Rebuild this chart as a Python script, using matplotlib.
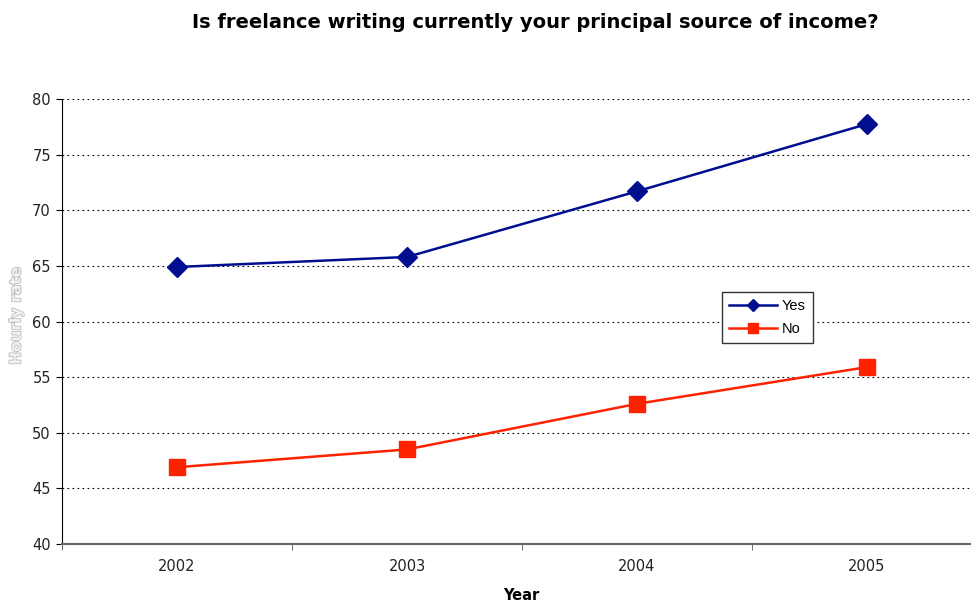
import matplotlib.pyplot as plt
import matplotlib.patheffects as pe
from matplotlib.ticker import MultipleLocator, FixedLocator

years = ['2002', '2003', '2004', '2005']
yes_values = [64.9, 65.8, 71.7, 77.75]
no_values = [46.9, 48.5, 52.6, 55.9]

plt.rcParams['font.family'] = ['DejaVu Sans']

fig = plt.figure(figsize=(9.71, 6.01), dpi=100)
ax = fig.add_axes([62 / 971, 1 - 544 / 601, 920 / 971, 445 / 601])

x = list(range(len(years)))
ax.plot(x, yes_values, color='#000f8f', linewidth=1.8, marker='D', markersize=10,
        label='Yes', clip_on=False, zorder=3)
ax.plot(x, no_values, color='#ff2200', linewidth=1.8, marker='s', markersize=12,
        label='No', clip_on=False, zorder=3)

ax.set_xlim(-0.5, len(years) - 0.5)
ax.set_ylim(40, 80)
ax.yaxis.set_major_locator(MultipleLocator(5))
ax.set_xticks(x)
ax.set_xticklabels(years)
ax.xaxis.set_minor_locator(FixedLocator([i + 0.5 for i in range(-1, len(years))]))
ax.tick_params(axis='x', which='major', length=0, pad=11, labelsize=10.5, labelcolor='#222222')
ax.tick_params(axis='x', which='minor', length=4, color='#555555')
ax.tick_params(axis='y', length=4, labelsize=10.5, pad=4, labelcolor='#222222')

ax.grid(axis='y', color='black', linestyle=(0, (1.5, 3)), linewidth=0.8)
ax.set_axisbelow(True)
for side in ['top', 'right']:
    ax.spines[side].set_visible(False)
ax.spines['bottom'].set_color('#666666')
ax.spines['bottom'].set_linewidth(1.5)
ax.spines['left'].set_color('black')

fig.text(535 / 971, 1 - 22 / 601, 'Is freelance writing currently your principal source of income?',
         ha='center', va='center', fontsize=14, fontweight='bold')
fig.text(521 / 971, 1 - 595 / 601, 'Year', ha='center', va='center',
         fontsize=10.5, fontweight='bold')
fig.text(16 / 971, 1 - 316 / 601, 'Hourly rate', ha='center', va='center',
         rotation=90, fontsize=11, fontweight='bold', color='#f2f2f2',
         path_effects=[pe.withStroke(linewidth=1.2, foreground='#bbbbbb')])

leg = ax.legend(loc='upper left', bbox_to_anchor=(722 / 971, 1 - 292 / 601),
                bbox_transform=fig.transFigure, fancybox=False, framealpha=1,
                edgecolor='#333333', markerscale=0.6, handlelength=3.3,
                handletextpad=0.3, borderpad=0.5, labelspacing=0.6, borderaxespad=0,
                prop={'family': 'Liberation Sans', 'size': 10.5})
leg.get_frame().set_linewidth(1)

fig.savefig('out.png', dpi=100)
